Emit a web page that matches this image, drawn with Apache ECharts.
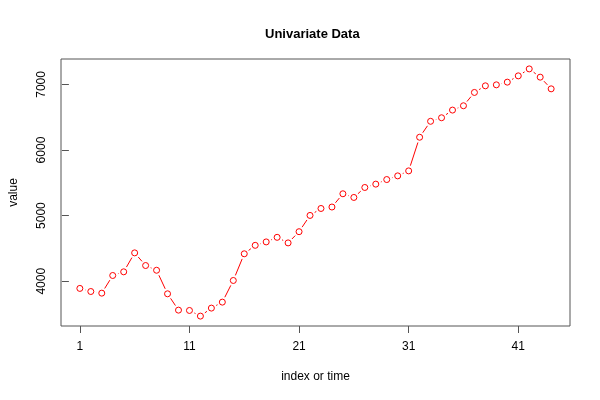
<!DOCTYPE html>
<html>
<head>
<meta charset="utf-8">
<script src="https://cdn.jsdelivr.net/npm/echarts@6/dist/echarts.min.js"></script>
<style>html,body{margin:0;padding:0;background:#fff;}#c{width:600px;height:400px;}</style>
</head>
<body>
<div id="c"></div>
<script>
const titleText = "Univariate Data";
const xName = "index or time";
const yName = "value";
const index = [1,2,3,4,5,6,7,8,9,10,11,12,13,14,15,16,17,18,19,20,21,22,23,24,25,26,27,28,29,30,31,32,33,34,35,36,37,38,39,40,41,42,43,44];
const values = [3890,3843,3818,4087,4143,4432,4239,4167,3808,3559,3554,3468,3590,3681,4011,4418,4547,4599,4669,4584,4755,5003,5109,5131,5333,5277,5429,5480,5550,5606,5682,6195,6438,6492,6609,6675,6878,6979,6994,7035,7131,7237,7111,6933];
const xTicks = [1,11,21,31,41];
const yTicks = [4000,5000,6000,7000];

const pts = index.map((x,i)=>[x, values[i]]);
const segs = [];
for (let i=0;i<index.length-1;i++) segs.push([index[i], values[i], index[i+1], values[i+1]]);

const font = "'Liberation Sans', Arial, Helvetica, sans-serif";
const GAP = 5.5;
const chart = echarts.init(document.getElementById('c'), null, {renderer:'canvas'});
chart.setOption({
  animation:false,
  backgroundColor:'#fff',
  title:{text:titleText,left:260,top:23,textStyle:{fontFamily:font,fontSize:13,fontWeight:'bold',color:'#000'}},
  grid:{left:59,right:30,top:59,bottom:74,show:true,borderColor:'#555',borderWidth:1,backgroundColor:'transparent'},
  xAxis:{type:'value',min:-0.72,max:45.72,
    name:xName,nameLocation:'middle',nameGap:45,nameTextStyle:{fontFamily:font,fontSize:12,color:'#000'},
    axisLine:{show:false},splitLine:{show:false},
    axisTick:{show:true,length:7,customValues:xTicks,lineStyle:{color:'#555'}},
    axisLabel:{customValues:xTicks,margin:15,fontFamily:font,fontSize:12,color:'#000',formatter:v=>String(v)}},
  yAxis:{type:'value',min:3317,max:7388,
    name:yName,nameLocation:'middle',nameGap:41,nameRotate:90,nameTextStyle:{fontFamily:font,fontSize:12,color:'#000'},
    axisLine:{show:false},splitLine:{show:false},
    axisTick:{show:true,length:7,customValues:yTicks,lineStyle:{color:'#555'}},
    axisLabel:{customValues:yTicks,rotate:90,align:'center',verticalAlign:'bottom',margin:13,fontFamily:font,fontSize:12,color:'#000',formatter:v=>String(v)}},
  series:[
    {type:'custom',data:segs,encode:{x:[0,2],y:[1,3]},silent:true,
     renderItem:function(params,api){
       const a = api.coord([api.value(0),api.value(1)]);
       const b = api.coord([api.value(2),api.value(3)]);
       const dx=b[0]-a[0], dy=b[1]-a[1];
       const d=Math.sqrt(dx*dx+dy*dy);
       if (d<=2*GAP) return null;
       const ux=dx/d, uy=dy/d;
       return {type:'line',shape:{x1:a[0]+ux*GAP,y1:a[1]+uy*GAP,x2:b[0]-ux*GAP,y2:b[1]-uy*GAP},
         style:{stroke:'#FF0000',lineWidth:1}};
     }},
    {type:'scatter',data:pts,symbol:'circle',symbolSize:6,
     itemStyle:{color:'#fff',borderColor:'#FF0000',borderWidth:1,opacity:1}}
  ]
});
</script>
</body>
</html>
